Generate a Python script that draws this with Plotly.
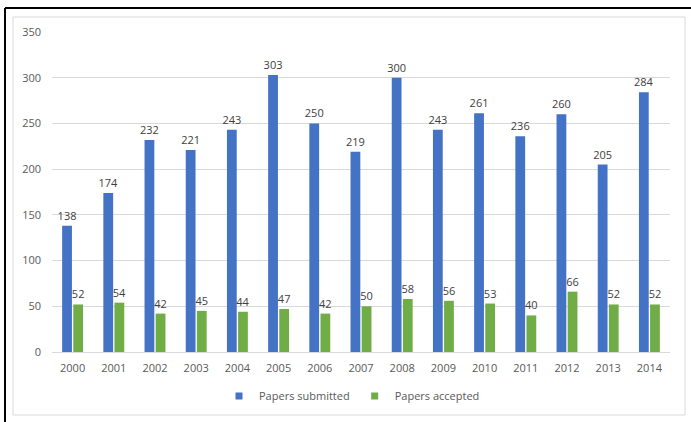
import plotly.graph_objects as go

years = ["2000", "2001", "2002", "2003", "2004", "2005", "2006", "2007",
         "2008", "2009", "2010", "2011", "2012", "2013", "2014"]
submitted = [138, 174, 232, 221, 243, 303, 250, 219, 300, 243, 261, 236, 260, 205, 284]
accepted = [52, 54, 42, 45, 44, 47, 42, 50, 58, 56, 53, 40, 66, 52, 52]
y_ticks = [0, 50, 100, 150, 200, 250, 300, 350]

BLUE, GREEN = "#4472C4", "#70AD47"

W, H = 691, 422
ML, MR, MT, MB = 52, 21, 32, 70
PW, PH = W - ML - MR, H - MT - MB


def px(x):
    return (x - ML) / PW


def py(y):
    return (H - MB - y) / PH


label_font = dict(family="Open Sans, Liberation Sans, sans-serif", size=11, color="#404040")

fig = go.Figure()
for name, vals, color in [("Papers submitted", submitted, BLUE),
                          ("Papers accepted", accepted, GREEN)]:
    fig.add_trace(go.Bar(
        x=years, y=vals, name=name, showlegend=False,
        marker=dict(color=color, line=dict(width=0)),
        text=vals, textposition="outside", textfont=label_font,
        constraintext="none", cliponaxis=False,
    ))

# legend entries with small square keys
for name, color in [("Papers submitted", BLUE), ("Papers accepted", GREEN)]:
    fig.add_trace(go.Scatter(
        x=[None], y=[None], mode="markers", name=name,
        marker=dict(symbol="square", size=7, color=color),
    ))

shapes = [
    # outer frame lines
    dict(type="line", xref="paper", yref="paper", x0=px(5), x1=px(W + 2), y0=py(8), y1=py(8),
         line=dict(color="#000000", width=2)),
    dict(type="line", xref="paper", yref="paper", x0=px(5), x1=px(5), y0=py(8), y1=py(H + 2),
         line=dict(color="#000000", width=2)),
    # chart area border
    dict(type="rect", xref="paper", yref="paper", x0=px(13), x1=px(685), y0=py(17), y1=py(415),
         line=dict(color="#d9d9d9", width=1), layer="below"),
]

fig.update_layout(
    width=W, height=H,
    margin=dict(l=ML, r=MR, t=MT, b=MB),
    paper_bgcolor="white", plot_bgcolor="white",
    barmode="group", bargap=0.46, bargroupgap=0.12,
    font=dict(family="Open Sans, Liberation Sans, sans-serif", size=11, color="#595959"),
    shapes=shapes,
    showlegend=True,
    legend=dict(orientation="h", x=px(352), xanchor="center", y=py(396), yanchor="middle",
                font=dict(size=11, color="#595959"), itemwidth=30, traceorder="normal",
                bgcolor="rgba(0,0,0,0)", tracegroupgap=0),
    xaxis=dict(showgrid=False, showline=False, ticks="", ticklabelstandoff=8,
               tickfont=dict(size=11, color="#595959")),
    yaxis=dict(range=[0, 350], tickvals=y_ticks, showgrid=True, gridcolor="#d9d9d9",
               gridwidth=1, zeroline=True, zerolinecolor="#d9d9d9", zerolinewidth=1,
               showline=False, ticks="", ticklabelstandoff=10,
               tickfont=dict(size=11, color="#595959")),
)

fig.write_html("out.html")
